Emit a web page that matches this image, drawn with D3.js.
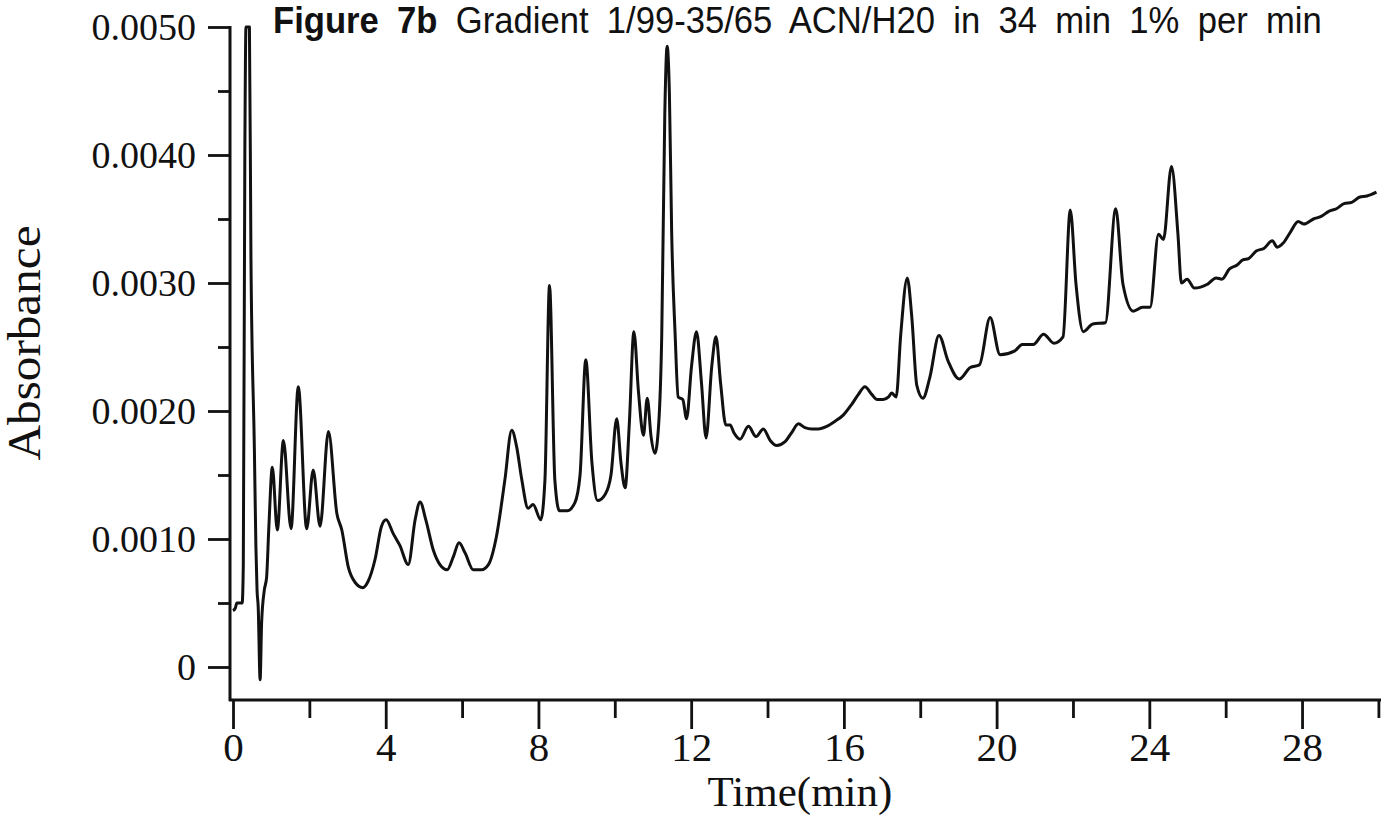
<!DOCTYPE html>
<html>
<head>
<meta charset="utf-8">
<script src="https://cdn.jsdelivr.net/npm/d3@7"></script>
<style>
  html, body { margin: 0; padding: 0; background: #ffffff; }
  svg { display: block; }
</style>
</head>
<body>
<svg id="chart" width="1381" height="816"></svg>
<script>
// Chromatogram trace: retention time (min) and absorbance
const timeMin = [
  0.00, 0.06, 0.10, 0.24, 0.27, 0.31, 0.34, 0.43, 0.47, 0.56,
  0.60, 0.63, 0.66, 0.71, 0.75, 0.82, 0.88, 0.94, 1.03, 1.16,
  1.32, 1.52, 1.71, 1.93, 2.10, 2.28, 2.50, 2.72, 2.85, 3.02,
  3.20, 3.40, 3.54, 3.72, 3.89, 4.01, 4.20, 4.37, 4.59, 4.77,
  4.90, 5.05, 5.25, 5.42, 5.61, 5.77, 5.92, 6.08, 6.29, 6.51,
  6.69, 6.90, 7.12, 7.30, 7.43, 7.56, 7.73, 7.86, 8.06, 8.17,
  8.29, 8.43, 8.55, 8.75, 8.95, 9.09, 9.24, 9.40, 9.55, 9.75,
  9.90, 10.05, 10.16, 10.27, 10.38, 10.50, 10.62, 10.75, 10.85, 10.95,
  11.05, 11.15, 11.23, 11.31, 11.37, 11.43, 11.49, 11.58, 11.66, 11.78,
  11.88, 12.01, 12.14, 12.27, 12.39, 12.54, 12.65, 12.77, 12.91, 13.02,
  13.12, 13.28, 13.50, 13.70, 13.89, 14.07, 14.24, 14.46, 14.63, 14.81,
  14.98, 15.16, 15.33, 15.55, 15.77, 15.99, 16.20, 16.38, 16.55, 16.73,
  16.87, 17.03, 17.17, 17.25, 17.37, 17.49, 17.66, 17.78, 17.91, 18.07,
  18.25, 18.49, 18.73, 19.02, 19.31, 19.55, 19.83, 20.09, 20.48, 20.67,
  20.96, 21.23, 21.50, 21.74, 21.93, 22.08, 22.27, 22.52, 22.85, 23.12,
  23.31, 23.58, 23.82, 24.02, 24.24, 24.37, 24.58, 24.75, 24.84, 24.99,
  25.18, 25.52, 25.75, 25.90, 26.10, 26.30, 26.45, 26.60, 26.80, 27.00,
  27.22, 27.35, 27.50, 27.70, 27.90, 28.05, 28.30, 28.50, 28.70, 28.90,
  29.10, 29.30, 29.50, 29.70, 29.95
];
const absorbance = [
  0.00044, 0.00046, 0.00050, 0.00050, 0.00080, 0.00400, 0.00500, 0.00500, 0.00320, 0.00170,
  0.00094, 0.00060, 0.00047, -0.00010, 0.00035, 0.00060, 0.00070, 0.00110, 0.00156, 0.00107,
  0.00177, 0.00108, 0.00219, 0.00108, 0.00154, 0.00110, 0.00184, 0.00120, 0.00107, 0.00078,
  0.00066, 0.00062, 0.00067, 0.00084, 0.00110, 0.00115, 0.00104, 0.00095, 0.00080, 0.00115,
  0.00129, 0.00115, 0.00091, 0.00080, 0.00076, 0.00086, 0.00097, 0.00089, 0.00076, 0.00076,
  0.00080, 0.00102, 0.00146, 0.00185, 0.00172, 0.00147, 0.00124, 0.00127, 0.00115, 0.00146,
  0.00298, 0.00146, 0.00122, 0.00122, 0.00128, 0.00150, 0.00240, 0.00160, 0.00130, 0.00135,
  0.00150, 0.00194, 0.00160, 0.00140, 0.00190, 0.00262, 0.00215, 0.00181, 0.00210, 0.00180,
  0.00167, 0.00190, 0.00260, 0.00433, 0.00485, 0.00448, 0.00339, 0.00260, 0.00211, 0.00209,
  0.00194, 0.00235, 0.00262, 0.00222, 0.00179, 0.00235, 0.00258, 0.00222, 0.00189, 0.00189,
  0.00183, 0.00178, 0.00188, 0.00180, 0.00186, 0.00177, 0.00173, 0.00176, 0.00183, 0.00190,
  0.00187, 0.00186, 0.00186, 0.00188, 0.00192, 0.00197, 0.00205, 0.00213, 0.00219, 0.00213,
  0.00209, 0.00209, 0.00211, 0.00214, 0.00211, 0.00260, 0.00304, 0.00273, 0.00220, 0.00210,
  0.00226, 0.00259, 0.00239, 0.00225, 0.00234, 0.00236, 0.00273, 0.00244, 0.00247, 0.00252,
  0.00252, 0.00260, 0.00253, 0.00258, 0.00357, 0.00299, 0.00262, 0.00268, 0.00269, 0.00358,
  0.00299, 0.00278, 0.00281, 0.00281, 0.00338, 0.00334, 0.00391, 0.00338, 0.00300, 0.00303,
  0.00296, 0.00299, 0.00304, 0.00303, 0.00311, 0.00314, 0.00318, 0.00319, 0.00325, 0.00327,
  0.00333, 0.00328, 0.00331, 0.00340, 0.00348, 0.00346, 0.00350, 0.00352, 0.00356, 0.00358,
  0.00362, 0.00363, 0.00367, 0.00368, 0.00371
];

// Axis ticks and labels
const xMajorTicks = [0, 4, 8, 12, 16, 20, 24, 28];
const xMinorTicks = [2, 6, 10, 14, 18, 22, 26, 30];
const yMajorTicks = [0, 0.001, 0.002, 0.003, 0.004, 0.005];
const yMinorTicks = [0.0005, 0.0015, 0.0025, 0.0035, 0.0045];
const yTickLabels = ["0", "0.0010", "0.0020", "0.0030", "0.0040", "0.0050"];

const titleBold = "Figure 7b";
const titleRest = "Gradient 1/99-35/65 ACN/H20 in 34 min 1% per min";
const xTitle = "Time(min)";
const yTitle = "Absorbance";

const svg = d3.select("#chart");
const serif = "'Liberation Serif', 'DejaVu Serif', serif";
const sans = "'Liberation Sans', Arial, sans-serif";
const ink = "#111";

const x = d3.scaleLinear().domain([0, 30]).range([233, 1378.4]);
const y = d3.scaleLinear().domain([0, 0.005]).range([667, 27]);

const yAxisX = 230;
const xAxisY = 700;

// Y axis: short minor ticks, long labelled major ticks
const yAxisG = svg.append("g").attr("transform", `translate(${yAxisX},0)`);
yAxisG.append("g")
  .call(d3.axisLeft(y).tickValues(yMinorTicks).tickSize(12).tickFormat(""))
  .call(g => g.select(".domain").remove());
yAxisG.append("g")
  .call(d3.axisLeft(y).tickValues(yMajorTicks).tickSize(22).tickPadding(12)
    .tickFormat((d, i) => yTickLabels[i]))
  .call(g => g.select(".domain").remove());
yAxisG.selectAll("line").attr("stroke", ink).attr("stroke-width", 2.8);
yAxisG.selectAll("text")
  .attr("font-family", serif).attr("font-size", 38).attr("fill", ink);
yAxisG.append("line")
  .attr("x1", 0).attr("x2", 0)
  .attr("y1", y(0.005) - 1).attr("y2", xAxisY + 1)
  .attr("stroke", ink).attr("stroke-width", 3);

// X axis
const xAxisG = svg.append("g").attr("transform", `translate(0,${xAxisY})`);
xAxisG.append("g")
  .call(d3.axisBottom(x).tickValues(xMinorTicks).tickSize(18).tickFormat(""))
  .call(g => g.select(".domain").remove());
xAxisG.append("g")
  .call(d3.axisBottom(x).tickValues(xMajorTicks).tickSize(29).tickPadding(10)
    .tickFormat(d3.format("d")))
  .call(g => g.select(".domain").remove());
xAxisG.selectAll("line").attr("stroke", ink).attr("stroke-width", 2.8);
xAxisG.selectAll("text")
  .attr("font-family", serif).attr("font-size", 41).attr("fill", ink)
  .attr("y", 61).attr("dy", 0);
xAxisG.append("line")
  .attr("x1", yAxisX - 1).attr("x2", 1381)
  .attr("y1", 0).attr("y2", 0)
  .attr("stroke", ink).attr("stroke-width", 3);

// Trace
const points = timeMin.map((t, i) => [t, absorbance[i]]);
const line = d3.line()
  .x(d => x(d[0]))
  .y(d => y(d[1]))
  .curve(d3.curveMonotoneX);
svg.append("path")
  .datum(points)
  .attr("d", line)
  .attr("fill", "none")
  .attr("stroke", ink)
  .attr("stroke-width", 3)
  .attr("stroke-linejoin", "round");

// Axis titles
svg.append("text")
  .attr("x", 800).attr("y", 806)
  .attr("text-anchor", "middle")
  .attr("font-family", serif).attr("font-size", 43).attr("fill", ink)
  .text(xTitle);
svg.append("text")
  .attr("transform", "translate(40,343) rotate(-90)")
  .attr("text-anchor", "middle")
  .attr("font-family", serif).attr("font-size", 46).attr("fill", ink)
  .attr("textLength", 235).attr("lengthAdjust", "spacingAndGlyphs")
  .text(yTitle);

// Title: fixed extra word gap, then narrowed to span its left and right ends
const titleLeft = 273, titleRight = 1322;
const title = svg.append("text")
  .attr("font-family", sans).attr("font-size", 36).attr("fill", ink)
  .attr("word-spacing", 9);
title.append("tspan").attr("font-weight", "bold").text(titleBold + " ");
title.append("tspan").text(titleRest);
const natural = title.node().getComputedTextLength();
const squeeze = (titleRight - titleLeft) / natural;
title.attr("transform", `translate(${titleLeft},33) scale(${squeeze},1)`);
</script>
</body>
</html>
